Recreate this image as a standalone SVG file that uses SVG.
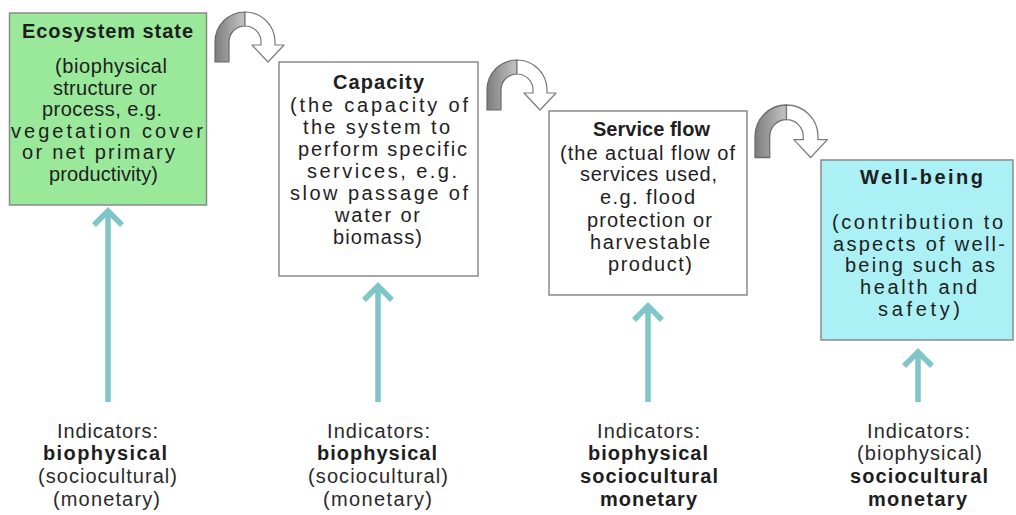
<svg xmlns="http://www.w3.org/2000/svg" width="1016" height="515" viewBox="0 0 1016 515">
  <style>
    .box { stroke: #8a8a8a; stroke-width: 1.5; }
    .t { font-family: "Liberation Sans", Arial, sans-serif; font-size: 20px; fill: #1e1e1e; text-anchor: middle; }
    .b { font-weight: bold; }
    .ind { fill: #2a2a2a; }
    .up { fill: none; stroke: #80c5c8; stroke-width: 5.5; stroke-linejoin: miter; }
    .bandL { fill: #a2a2a2; stroke: #6a6a6a; stroke-width: 1.2; }
    .bandR { fill: #ffffff; stroke: #7a7a7a; stroke-width: 1.2; stroke-linejoin: round; }
  </style>
  <defs>
    <linearGradient id="bandGrad" x1="0" y1="0" x2="1" y2="0">
      <stop offset="0" stop-color="#7d7d7d"/>
      <stop offset="0.6" stop-color="#a8a8a8"/>
      <stop offset="1" stop-color="#c4c4c4"/>
    </linearGradient>
    <!-- curved "leads to" arrow: shaded rising band, open descending head -->
    <symbol id="turn" overflow="visible">
      <path class="bandL" style="fill:url(#bandGrad)" d="M0,50 V30 A30,30 0 0 1 30,0 V14 A16,16 0 0 0 14,30 V50 Z"/>
      <path class="bandR" d="M30,0 A30,30 0 0 1 60,30 V33 H69 L53,50 L37,33 H46 V30 A16,16 0 0 0 30,14 Z"/>
    </symbol>
  </defs>
  <rect width="1016" height="515" fill="#ffffff"/>

  <!-- links between the stages -->
  <g id="connectors">
    <use href="#turn" transform="translate(215,12)"/>
    <use href="#turn" transform="translate(487,60)"/>
    <use href="#turn" transform="translate(755,105) scale(1.05)"/>
    <path class="up" d="M108,402 V211 M94,225 L108,211 L122,225"/>
    <path class="up" d="M378,402 V286 M364,300 L378,286 L392,300"/>
    <path class="up" d="M648,402 V306 M634,320 L648,306 L662,320"/>
    <path class="up" d="M918,402 V352 M904,366 L918,352 L932,366"/>
  </g>

  <g id="ecosystem-state">
    <rect class="box" x="9.5" y="13" width="197" height="192" fill="#9ae89a"/>
    <text class="t b" x="107.5" y="38" textLength="171" lengthAdjust="spacing">Ecosystem state</text>
    <text class="t" x="111" y="73" textLength="112" lengthAdjust="spacing">(biophysical</text>
    <text class="t" x="105" y="95" textLength="104" lengthAdjust="spacing">structure or</text>
    <text class="t" x="102" y="116" textLength="120" lengthAdjust="spacing">process, e.g.</text>
    <text class="t" x="107" y="138" textLength="192" lengthAdjust="spacing">vegetation cover</text>
    <text class="t" x="98.5" y="159" textLength="153" lengthAdjust="spacing">or net primary</text>
    <text class="t" x="103.5" y="181" textLength="109" lengthAdjust="spacing">productivity)</text>
  </g>

  <g id="capacity">
    <rect class="box" x="279" y="62" width="199" height="214" fill="#ffffff"/>
    <text class="t b" x="378.5" y="89" textLength="91" lengthAdjust="spacing">Capacity</text>
    <text class="t" x="379" y="112" textLength="178" lengthAdjust="spacing">(the capacity of</text>
    <text class="t" x="376.5" y="134" textLength="147" lengthAdjust="spacing">the system to</text>
    <text class="t" x="382.5" y="156" textLength="169" lengthAdjust="spacing">perform specific</text>
    <text class="t" x="382" y="178" textLength="150" lengthAdjust="spacing">services, e.g.</text>
    <text class="t" x="379" y="200" textLength="178" lengthAdjust="spacing">slow passage of</text>
    <text class="t" x="377.5" y="222" textLength="85" lengthAdjust="spacing">water or</text>
    <text class="t" x="377.5" y="244" textLength="89" lengthAdjust="spacing">biomass)</text>
  </g>

  <g id="service-flow">
    <rect class="box" x="549" y="111" width="198" height="184" fill="#ffffff"/>
    <text class="t b" x="651.5" y="136" textLength="117" lengthAdjust="spacing">Service flow</text>
    <text class="t" x="647.5" y="160" textLength="175" lengthAdjust="spacing">(the actual flow of</text>
    <text class="t" x="648.5" y="181" textLength="137" lengthAdjust="spacing">services used,</text>
    <text class="t" x="647.5" y="204" textLength="95" lengthAdjust="spacing">e.g. flood</text>
    <text class="t" x="649.5" y="227" textLength="125" lengthAdjust="spacing">protection or</text>
    <text class="t" x="650" y="249" textLength="120" lengthAdjust="spacing">harvestable</text>
    <text class="t" x="650" y="271" textLength="84" lengthAdjust="spacing">product)</text>
  </g>

  <g id="well-being">
    <rect class="box" x="821" y="160" width="192" height="180" fill="#aaf0f5"/>
    <text class="t b" x="921.5" y="184" textLength="123" lengthAdjust="spacing">Well-being</text>
    <text class="t" x="917.5" y="229" textLength="171" lengthAdjust="spacing">(contribution to</text>
    <text class="t" x="919" y="251" textLength="172" lengthAdjust="spacing">aspects of well-</text>
    <text class="t" x="920" y="272" textLength="150" lengthAdjust="spacing">being such as</text>
    <text class="t" x="918.5" y="294" textLength="117" lengthAdjust="spacing">health and</text>
    <text class="t" x="919" y="316" textLength="82" lengthAdjust="spacing">safety)</text>
  </g>

  <g id="indicators-ecosystem-state">
    <text class="t ind" x="107.5" y="438" textLength="101" lengthAdjust="spacing">Indicators:</text>
    <text class="t b" x="105" y="460" textLength="124" lengthAdjust="spacing">biophysical</text>
    <text class="t ind" x="107.5" y="483" textLength="139" lengthAdjust="spacing">(sociocultural)</text>
    <text class="t ind" x="106.5" y="506" textLength="107" lengthAdjust="spacing">(monetary)</text>
  </g>

  <g id="indicators-capacity">
    <text class="t ind" x="378.5" y="438" textLength="103" lengthAdjust="spacing">Indicators:</text>
    <text class="t b" x="377" y="460" textLength="120" lengthAdjust="spacing">biophysical</text>
    <text class="t ind" x="378" y="483" textLength="140" lengthAdjust="spacing">(sociocultural)</text>
    <text class="t ind" x="377.5" y="506" textLength="109" lengthAdjust="spacing">(monetary)</text>
  </g>

  <g id="indicators-service-flow">
    <text class="t ind" x="648.5" y="438" textLength="103" lengthAdjust="spacing">Indicators:</text>
    <text class="t b" x="648" y="460" textLength="120" lengthAdjust="spacing">biophysical</text>
    <text class="t b" x="649" y="483" textLength="138" lengthAdjust="spacing">sociocultural</text>
    <text class="t b" x="648.5" y="506" textLength="97" lengthAdjust="spacing">monetary</text>
  </g>

  <g id="indicators-well-being">
    <text class="t ind" x="918.5" y="438" textLength="103" lengthAdjust="spacing">Indicators:</text>
    <text class="t ind" x="919.5" y="460" textLength="125" lengthAdjust="spacing">(biophysical)</text>
    <text class="t b" x="919" y="483" textLength="138" lengthAdjust="spacing">sociocultural</text>
    <text class="t b" x="917.5" y="506" textLength="99" lengthAdjust="spacing">monetary</text>
  </g>
</svg>
